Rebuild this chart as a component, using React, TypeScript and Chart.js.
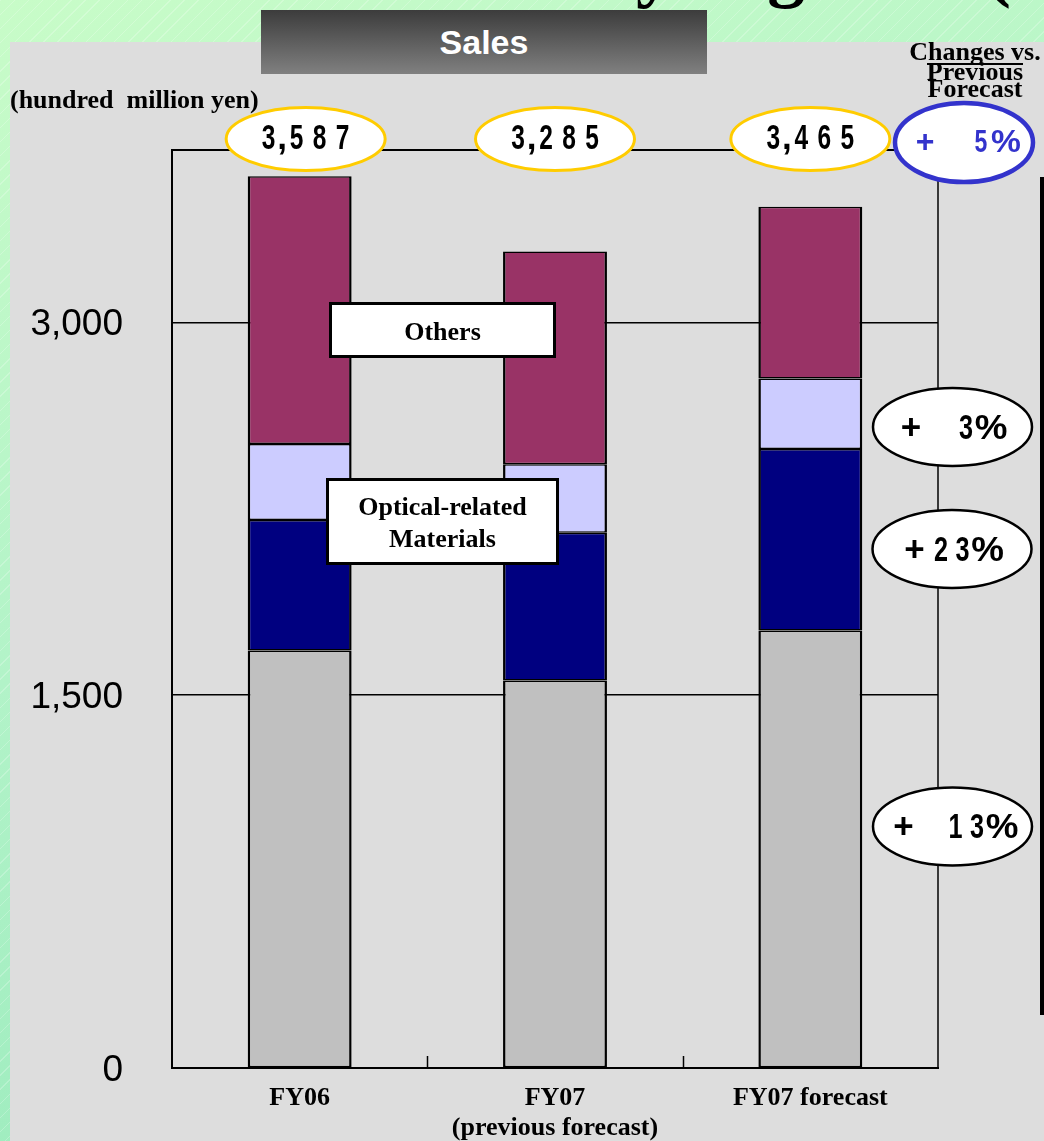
import { useEffect, useRef } from "react";
import { Chart, registerables } from "chart.js";

Chart.register(...registerables);

// Sales by segment, hundred million yen
const categories = [["FY06"], ["FY07", "(previous forecast)"], ["FY07 forecast"]];
const segmentGray = [1680, 1559, 1760];
const segmentNavy = [525, 594, 730];
const segmentLavender = [305, 276, 284];
const segmentOthers = [1077, 856, 691];
const yTicks = [0, 1500, 3000];

const AXIS_MAX = 3693;
const SERIF = '"Liberation Serif", "Times New Roman", serif';
const SANS = '"Liberation Sans", Arial, sans-serif';

const totals = segmentGray.map(
  (v, i) => v + segmentNavy[i] + segmentLavender[i] + segmentOthers[i]
);
const pctChange = (prev: number, next: number) => Math.round((next / prev - 1) * 100);

function ellipse(ctx: CanvasRenderingContext2D, cx: number, cy: number, rx: number, ry: number, stroke: string, lw: number) {
  ctx.beginPath();
  ctx.ellipse(cx, cy, rx, ry, 0, 0, Math.PI * 2);
  ctx.fillStyle = "#fff";
  ctx.fill();
  ctx.lineWidth = lw;
  ctx.strokeStyle = stroke;
  ctx.stroke();
}

function glyph(ctx: CanvasRenderingContext2D, ch: string, cx: number, cy: number, sx: number) {
  ctx.save();
  ctx.translate(cx, cy);
  ctx.scale(sx, 1);
  ctx.textAlign = "center";
  ctx.textBaseline = "middle";
  ctx.fillText(ch, 0, 0);
  ctx.restore();
}

// total with thousands separator, condensed digits
function drawTotal(ctx: CanvasRenderingContext2D, value: number, cx: number, cy: number) {
  const s = value.toLocaleString("en-US");
  const pos: { ch: string; x: number }[] = [];
  let x = 0;
  let last = 0;
  for (const ch of s) {
    if (ch === ",") {
      pos.push({ ch, x: last + 13.5 });
      x += 5;
    } else {
      pos.push({ ch, x });
      last = x;
      x += 23;
    }
  }
  const span = last;
  ctx.fillStyle = "#000";
  ctx.font = `bold 35px ${SANS}`;
  for (const p of pos) {
    glyph(ctx, p.ch, cx - span / 2 + p.x, cy, p.ch === "," ? 1 : 0.7);
  }
}

function drawPct(
  ctx: CanvasRenderingContext2D,
  value: number,
  cx: number,
  cy: number,
  plusDx: number,
  pctDx: number,
  color: string,
  size: number
) {
  ctx.fillStyle = color;
  ctx.font = `bold ${size}px ${SANS}`;
  const sign = value >= 0 ? "+" : "-";
  glyph(ctx, sign, cx + plusDx, cy, 1);
  const pctX = cx + pctDx;
  glyph(ctx, "%", pctX, cy, 1.05);
  const digits = String(Math.abs(value));
  const lastX = pctX - 25;
  for (let i = 0; i < digits.length; i++) {
    const k = digits.length - 1 - i;
    glyph(ctx, digits[i], lastX - k * 21.5, cy, 0.72);
  }
}

function labelBox(ctx: CanvasRenderingContext2D, x: number, y: number, w: number, h: number, lines: string[], baselines: number[]) {
  ctx.fillStyle = "#fff";
  ctx.fillRect(x, y, w, h);
  ctx.lineWidth = 3;
  ctx.strokeStyle = "#000";
  ctx.strokeRect(x + 1.5, y + 1.5, w - 3, h - 3);
  ctx.fillStyle = "#000";
  ctx.font = `bold 26px ${SERIF}`;
  ctx.textAlign = "center";
  ctx.textBaseline = "alphabetic";
  lines.forEach((t, i) => ctx.fillText(t, x + w / 2, baselines[i]));
}

const decorations = {
  id: "decorations",
  beforeDatasetsDraw(chart: any) {
    const { ctx, chartArea } = chart;
    const xs = chart.scales.x;
    ctx.save();
    ctx.strokeStyle = "#000";
    // frame top and right
    ctx.lineWidth = 2;
    ctx.beginPath();
    ctx.moveTo(chartArea.left, chartArea.top);
    ctx.lineTo(chartArea.right, chartArea.top);
    ctx.stroke();
    ctx.lineWidth = 1.5;
    ctx.beginPath();
    ctx.moveTo(chartArea.right, chartArea.top);
    ctx.lineTo(chartArea.right, chartArea.bottom);
    ctx.stroke();
    // category boundary ticks
    for (let i = 0; i < categories.length - 1; i++) {
      const bx = Math.round((xs.getPixelForValue(i) + xs.getPixelForValue(i + 1)) / 2) + 0.5;
      ctx.beginPath();
      ctx.moveTo(bx, chartArea.bottom - 12);
      ctx.lineTo(bx, chartArea.bottom);
      ctx.stroke();
    }
    ctx.restore();
  },
  afterDraw(chart: any) {
    const { ctx, chartArea } = chart;
    const xs = chart.scales.x;
    ctx.save();

    // slide title, mostly above the page edge
    ctx.fillStyle = "#000";
    ctx.font = `bold 75px ${SERIF}`;
    ctx.textAlign = "left";
    ctx.textBaseline = "alphabetic";
    const lead = ctx.measureText("Sales b").width;
    ctx.fillText("Sales by Segment (Consolidated)", 636 - lead, -7);

    // unit
    ctx.font = `bold 26px ${SERIF}`;
    ctx.fillText("(hundred  million yen)", 10, 108);

    // column header on the right
    ctx.textAlign = "center";
    ctx.fillText("Changes vs.", 975, 60);
    ctx.fillText("Previous", 975, 80);
    ctx.fillText("Forecast", 975, 97);
    ctx.fillRect(927, 63, 96, 2);

    // totals above the bars
    const offs = [6, 0, 0];
    totals.forEach((t, i) => {
      const cx = xs.getPixelForValue(i) + offs[i];
      const cy = chartArea.top - 11;
      ellipse(ctx, cx, cy, 79.5, 31.5, "#ffcc00", 3);
      drawTotal(ctx, t, cx, cy);
    });

    // total change vs previous forecast
    ellipse(ctx, 964, 142.5, 69, 39.5, "#3333cc", 4.5);
    drawPct(ctx, pctChange(totals[1], totals[2]), 964, 143, -39, 42, "#3333cc", 32);

    // segment changes
    const badges = [
      { v: pctChange(segmentLavender[1], segmentLavender[2]), cx: 952.5, cy: 427, plus: -41.5, pct: 38.5 },
      { v: pctChange(segmentNavy[1], segmentNavy[2]), cx: 952, cy: 549, plus: -37.5, pct: 35.5 },
      { v: pctChange(segmentGray[1], segmentGray[2]), cx: 952.5, cy: 826.5, plus: -49, pct: 49.5 },
    ];
    for (const b of badges) {
      ellipse(ctx, b.cx, b.cy, 79.5, 39, "#000", 2.5);
      drawPct(ctx, b.v, b.cx, b.cy + 2, b.plus, b.pct, "#000", 35);
    }

    // segment name boxes
    labelBox(ctx, 329, 302, 227, 56, ["Others"], [340]);
    labelBox(ctx, 326, 478, 233, 87, ["Optical-related", "Materials"], [515, 547]);

    // bracket bar at the right edge
    ctx.fillStyle = "#000";
    ctx.fillRect(1040, 177, 8, 838);

    ctx.restore();
  },
};

export default function App() {
  const ref = useRef<HTMLCanvasElement>(null);

  useEffect(() => {
    const bar = (label: string, data: number[], color: string) => ({
      label,
      data,
      backgroundColor: color,
      borderColor: "#000",
      borderWidth: { left: 2.5, right: 2.5, top: 1.5, bottom: 1.5 },
      borderSkipped: false,
      categoryPercentage: 1,
      barPercentage: 0.407,
    });
    const chart = new Chart(ref.current!, {
      type: "bar",
      data: {
        labels: categories,
        datasets: [
          bar("Gray", segmentGray, "#c0c0c0"),
          bar("Navy", segmentNavy, "#000080"),
          bar("Lavender", segmentLavender, "#ccccff"),
          bar("Others", segmentOthers, "#993366"),
        ],
      },
      options: {
        animation: false,
        responsive: false,
        devicePixelRatio: 1,
        layout: { padding: { top: 150, right: 106, left: 0, bottom: 0 } },
        plugins: { legend: { display: false }, tooltip: { enabled: false } },
        scales: {
          x: {
            stacked: true,
            grid: { display: false, drawTicks: false },
            border: { color: "#000", width: 2 },
            afterFit: (s: any) => {
              s.height = 73;
            },
            ticks: {
              padding: 15,
              color: "#000",
              autoSkip: false,
              maxRotation: 0,
              font: { family: SERIF, size: 26, weight: "bold", lineHeight: 1.15 },
            },
          },
          y: {
            stacked: true,
            min: 0,
            max: AXIS_MAX,
            afterBuildTicks: (s: any) => {
              s.ticks = yTicks.map((v) => ({ value: v }));
            },
            afterFit: (s: any) => {
              s.width = 172;
            },
            grid: { color: "#000", lineWidth: 1.5, drawTicks: false },
            border: { color: "#000", width: 2 },
            ticks: {
              padding: 49,
              labelOffset: 3,
              color: "#000",
              font: { family: SANS, size: 37 },
              callback: (v: any) => Number(v).toLocaleString("en-US"),
            },
          },
        },
      },
      plugins: [decorations],
    } as any);
    return () => chart.destroy();
  }, []);

  return (
    <div
      style={{
        position: "absolute",
        left: 0,
        top: 0,
        width: 1044,
        height: 1141,
        overflow: "hidden",
        background:
          "repeating-linear-gradient(135deg, rgba(255,255,255,0.22) 0px, rgba(255,255,255,0.22) 1px, rgba(255,255,255,0) 1px, rgba(255,255,255,0) 10px), linear-gradient(160deg, #c8fcc8 0%, #b2f3c8 45%, #92e8b9 100%)",
      }}
    >
      <div style={{ position: "absolute", left: 10, top: 42, right: 0, bottom: 0, background: "#dddddd" }} />
      <div
        style={{
          position: "absolute",
          left: 261,
          top: 10,
          width: 446,
          height: 64,
          background: "linear-gradient(#3c3c3c, #808080)",
          color: "#fff",
          font: `bold 34px ${SANS}`,
          display: "flex",
          alignItems: "center",
          justifyContent: "center",
        }}
      >
        Sales
      </div>
      <canvas ref={ref} width={1044} height={1141} style={{ position: "absolute", left: 0, top: 0, display: "block" }} />
    </div>
  );
}
